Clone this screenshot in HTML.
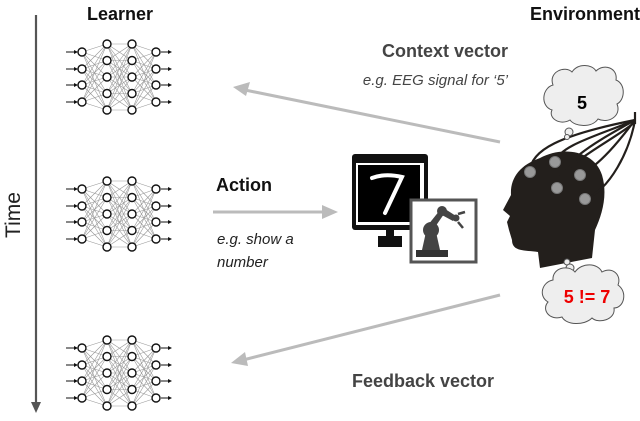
<!DOCTYPE html>
<html><head><style>
html,body{margin:0;padding:0;background:#fff;}
svg{display:block;font-family:"Liberation Sans",Arial,sans-serif;}
</style></head><body>
<svg id="s" width="640" height="421" viewBox="0 0 640 421" xmlns="http://www.w3.org/2000/svg">
<line x1="36" y1="15" x2="36" y2="404" stroke="#555" stroke-width="2.2"/>
<polygon points="31,402 41,402 36,413" fill="#555"/>
<text transform="translate(20,215) rotate(-90)" text-anchor="middle" font-size="21" fill="#222">Time</text>
<text x="120" y="20" text-anchor="middle" font-size="18" font-weight="bold" fill="#111">Learner</text>
<text x="640" y="20" text-anchor="end" font-size="18" font-weight="bold" fill="#111">Environment</text>

<g id="nets"></g>

<line x1="500" y1="142" x2="245" y2="90" stroke="#bbb" stroke-width="3"/>
<polygon points="233,87 250,82 246,96" fill="#bbb"/>
<text x="508" y="57" text-anchor="end" font-size="18" font-weight="bold" fill="#444">Context vector</text>
<text x="508" y="85" text-anchor="end" font-size="15" font-style="italic" fill="#444">e.g. EEG signal for ‘5’</text>

<line x1="213" y1="212" x2="325" y2="212" stroke="#bbb" stroke-width="3"/>
<polygon points="338,212 322,205 322,219" fill="#bbb"/>
<text x="216" y="191" font-size="18" font-weight="bold" fill="#111">Action</text>
<text x="217" y="244" font-size="15" font-style="italic" fill="#222">e.g. show a</text>
<text x="217" y="267" font-size="15" font-style="italic" fill="#222">number</text>

<line x1="500" y1="295" x2="243" y2="360" stroke="#bbb" stroke-width="3"/>
<polygon points="231,363 245,352 248,366" fill="#bbb"/>
<text x="423" y="387" text-anchor="middle" font-size="18" font-weight="bold" fill="#444">Feedback vector</text>

<!-- monitor -->
<rect x="352" y="154" width="76" height="76" rx="3" fill="#111"/>
<rect x="356" y="163" width="68" height="62" fill="#fff"/>
<rect x="358" y="165" width="62" height="57" fill="#000"/>
<path d="M372 178 Q385 173 402 177 L385 213" stroke="#fff" stroke-width="4" fill="none" stroke-linecap="round"/>
<rect x="378" y="236" width="24" height="11" fill="#111"/>
<rect x="386" y="229" width="8" height="9" fill="#111"/>
<!-- robot -->
<rect x="411" y="200" width="65" height="62" fill="#fff" stroke="#555" stroke-width="3"/>
<rect x="416" y="250" width="32" height="7" fill="#333"/>
<path d="M422 250 L426 232 L436 232 L440 250 Z" fill="#444"/>
<circle cx="431" cy="230" r="8" fill="#444"/>
<path d="M428 225 L440 210 L444 214 L433 230Z" fill="#444"/>
<circle cx="442" cy="211" r="5" fill="#444"/>
<path d="M442 207 L456 216 L453 221 L440 214Z" fill="#444"/>
<circle cx="456" cy="218" r="3.5" fill="#444"/>
<path d="M458 214 L465 212 M458 222 L463 228" stroke="#444" stroke-width="2.5"/>

<path d="M540 158 C562 146 594 150 602 175 C608 195 602 215 595 230 L592 258 L540 268 L538 252 C525 250 512 252 512 240 L509 230 L507 222 L510 216 L503 210 L511 195 C510 178 520 165 540 158 Z" fill="#231f1c"/>
<g stroke="#231f1c" stroke-width="2.2" fill="none">
<path d="M530 172 C530 150 560 135 635 120"/>
<path d="M555 162 C560 145 600 135 635 120"/>
<path d="M557 188 C560 160 600 140 635 120"/>
<path d="M580 175 C600 165 620 140 635 120"/>
<path d="M585 199 C610 190 630 150 635 120"/>
<path d="M566 170 C590 150 620 135 635 122"/>
<line x1="635" y1="112" x2="635" y2="124"/>
</g>
<g fill="#999" stroke="#777" stroke-width="1">
<circle cx="530" cy="172" r="5.5"/><circle cx="555" cy="162" r="5.5"/><circle cx="580" cy="175" r="5.5"/><circle cx="557" cy="188" r="5.5"/><circle cx="585" cy="199" r="5.5"/>
</g>

<g fill="#eee" stroke="#555" stroke-width="1">
<path d="M553 85 C548 72 565 65 572 72 C578 63 592 64 596 71 C604 63 618 68 616 80 C626 84 625 100 617 104 C622 116 608 124 598 119 C592 128 575 127 570 120 C560 126 548 118 552 110 C540 106 542 88 553 85 Z"/>
<circle cx="569" cy="132" r="4"/><circle cx="567" cy="137" r="2.5"/>
<circle cx="567" cy="262" r="3"/><circle cx="570" cy="268" r="4"/>
<path d="M553 280 C552 268 568 264 575 272 C582 262 598 263 602 272 C612 266 622 275 618 285 C628 292 624 308 614 308 C616 320 598 324 592 318 C584 326 566 325 562 317 C550 321 541 310 548 302 C538 296 542 282 553 280 Z"/>
</g>
<text x="582" y="109" text-anchor="middle" font-size="18" font-weight="bold" fill="#000">5</text>
<text x="587" y="303" text-anchor="middle" font-size="18" font-weight="bold" fill="#e00">5 != 7</text>
</svg>
<script>
var g=document.getElementById('nets'),h='';
[77,214,373].forEach(function(c){
 var L=[[82,[-25,-8,8,25]],[107,[-33,-16.5,0,16.5,33]],[132,[-33,-16.5,0,16.5,33]],[156,[-25,-8,8,25]]];
 for(var i=0;i<3;i++){L[i][1].forEach(function(a){L[i+1][1].forEach(function(b){
  h+='<line x1="'+L[i][0]+'" y1="'+(c+a)+'" x2="'+L[i+1][0]+'" y2="'+(c+b)+'" stroke="#999" stroke-width="0.6"/>';});});}
 L[0][1].forEach(function(a){h+='<line x1="66" y1="'+(c+a)+'" x2="76" y2="'+(c+a)+'" stroke="#111" stroke-width="1"/><polygon points="74,'+(c+a-2)+' 78,'+(c+a)+' 74,'+(c+a+2)+'" fill="#111"/>';});
 L[3][1].forEach(function(a){h+='<line x1="161" y1="'+(c+a)+'" x2="170" y2="'+(c+a)+'" stroke="#111" stroke-width="1"/><polygon points="168,'+(c+a-2)+' 172,'+(c+a)+' 168,'+(c+a+2)+'" fill="#111"/>';});
 L.forEach(function(l){l[1].forEach(function(a){h+='<circle cx="'+l[0]+'" cy="'+(c+a)+'" r="4" fill="#fff" stroke="#111" stroke-width="1.4"/>';});});
});
g.innerHTML=h;
</script>
</body></html>
